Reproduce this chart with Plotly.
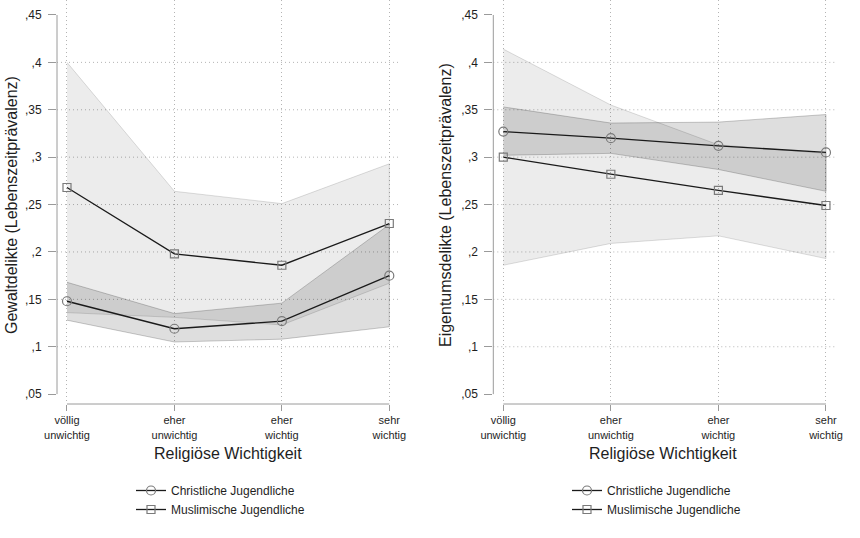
import plotly.graph_objects as go

# ---------------- data ----------------
categories = ["völlig<br>unwichtig", "eher<br>unwichtig", "eher<br>wichtig", "sehr<br>wichtig"]
y_tickvals = [0.05, 0.10, 0.15, 0.20, 0.25, 0.30, 0.35, 0.40, 0.45]
y_ticktext = [",05", ",1", ",15", ",2", ",25", ",3", ",35", ",4", ",45"]
grid_vals = [0.10, 0.15, 0.20, 0.25, 0.30, 0.35, 0.40]

series_names = ["Christliche Jugendliche", "Muslimische Jugendliche"]

gewalt_christ = [0.148, 0.119, 0.127, 0.175]
gewalt_christ_lo = [0.128, 0.105, 0.108, 0.121]
gewalt_christ_hi = [0.168, 0.135, 0.146, 0.229]
gewalt_muslim = [0.268, 0.198, 0.186, 0.230]
gewalt_muslim_lo = [0.136, 0.131, 0.123, 0.167]
gewalt_muslim_hi = [0.400, 0.264, 0.251, 0.293]

eigentum_christ = [0.327, 0.320, 0.312, 0.305]
eigentum_christ_lo = [0.302, 0.304, 0.287, 0.264]
eigentum_christ_hi = [0.353, 0.336, 0.337, 0.345]
eigentum_muslim = [0.300, 0.282, 0.265, 0.249]
eigentum_muslim_lo = [0.186, 0.209, 0.217, 0.193]
eigentum_muslim_hi = [0.414, 0.355, 0.313, 0.304]

y_titles = ["Gewaltdelikte (Lebenszeitprävalenz)", "Eigentumsdelikte (Lebenszeitprävalenz)"]
x_title = "Religiöse Wichtigkeit"

# ---------------- style ----------------
W, H = 860, 538
OFF = 0  # body margin is removed by the post script below
FONT = "Liberation Sans, Arial, sans-serif"
AXIS_COL = "#9a9a9a"
GRID_COL = "#b4b4b4"
TXT_COL = "#1e1e1e"
LINE_COL = "#1a1a1a"
MARK_COL = "#7a7a7a"
DOT = "1px,3px"


def px(sx):
    return (sx - OFF) / W


def py(sy):
    return 1 - (sy - OFF) / H


fig = go.Figure()

panels = [
    dict(xa="x", ya="y", leg="legend",
         c=gewalt_christ, clo=gewalt_christ_lo, chi=gewalt_christ_hi,
         m=gewalt_muslim, mlo=gewalt_muslim_lo, mhi=gewalt_muslim_hi),
    dict(xa="x2", ya="y2", leg="legend2",
         c=eigentum_christ, clo=eigentum_christ_lo, chi=eigentum_christ_hi,
         m=eigentum_muslim, mlo=eigentum_muslim_lo, mhi=eigentum_muslim_hi),
]

for p in panels:
    xs_band = categories + categories[::-1]
    # Christian CI band
    fig.add_trace(go.Scatter(x=xs_band, y=p["chi"] + p["clo"][::-1], xaxis=p["xa"], yaxis=p["ya"],
                             mode="lines", fill="toself", fillcolor="rgba(0,0,0,0.13)",
                             line=dict(color="rgba(0,0,0,0.20)", width=1),
                             hoverinfo="skip", showlegend=False))
    # Muslim CI band
    fig.add_trace(go.Scatter(x=xs_band, y=p["mhi"] + p["mlo"][::-1], xaxis=p["xa"], yaxis=p["ya"],
                             mode="lines", fill="toself", fillcolor="rgba(0,0,0,0.075)",
                             line=dict(color="rgba(0,0,0,0.13)", width=1),
                             hoverinfo="skip", showlegend=False))
    # lines
    fig.add_trace(go.Scatter(x=categories, y=p["c"], xaxis=p["xa"], yaxis=p["ya"], legend=p["leg"],
                             name=series_names[0], mode="lines+markers",
                             line=dict(color=LINE_COL, width=1.3),
                             marker=dict(symbol="circle-open", size=9, color=MARK_COL,
                                         line=dict(width=1.2, color=MARK_COL))))
    fig.add_trace(go.Scatter(x=categories, y=p["m"], xaxis=p["xa"], yaxis=p["ya"], legend=p["leg"],
                             name=series_names[1], mode="lines+markers",
                             line=dict(color=LINE_COL, width=1.3),
                             marker=dict(symbol="square-open", size=8, color=MARK_COL,
                                         line=dict(width=1.2, color=MARK_COL))))

y_dom = [py(404), 1.0]
y_range = [0.0396, 0.4658]

xcommon = dict(type="category", showgrid=True, griddash=DOT, gridcolor=GRID_COL, gridwidth=1,
               showline=False, zeroline=False, ticks="outside", ticklen=6, tickcolor=AXIS_COL,
               tickfont=dict(family=FONT, size=11, color=TXT_COL), fixedrange=True,
               automargin=False)
ycommon = dict(range=y_range, domain=y_dom, tickmode="array", tickvals=y_tickvals, ticktext=y_ticktext,
               showgrid=False, showline=False, zeroline=False, ticks="outside", ticklen=8,
               tickcolor=AXIS_COL, tickfont=dict(family=FONT, size=12, color=TXT_COL),
               ticklabelstandoff=4, fixedrange=True, automargin=False)

legcommon = dict(xanchor="left", yanchor="top", font=dict(family=FONT, size=12, color=TXT_COL),
                 bgcolor="rgba(0,0,0,0)", tracegroupgap=0, itemwidth=30)

fig.update_layout(
    width=W, height=H,
    margin=dict(l=0, r=0, t=0, b=0, pad=0),
    paper_bgcolor="white", plot_bgcolor="white",
    font=dict(family=FONT, color=TXT_COL),
    xaxis=dict(xcommon, domain=[px(57), px(398)], range=[-0.093, 3.081], anchor="y"),
    yaxis=dict(ycommon, anchor="x"),
    xaxis2=dict(xcommon, domain=[px(493.3), px(835)], range=[-0.093, 3.084], anchor="y2"),
    yaxis2=dict(ycommon, anchor="x2"),
    legend=dict(legcommon, x=px(131), y=py(476)),
    legend2=dict(legcommon, x=px(567), y=py(476)),
    showlegend=True,
)

shapes = []
annotations = []
for i, (xa, ya) in enumerate([("x", "y"), ("x2", "y2")]):
    # dotted horizontal gridlines (Stata leaves out the outermost ticks)
    for v in grid_vals:
        shapes.append(dict(type="line", xref=f"{xa} domain", yref=ya, x0=0, x1=1, y0=v, y1=v,
                           line=dict(color=GRID_COL, width=1, dash=DOT), layer="below"))
    # y axis line from first to last tick
    shapes.append(dict(type="line", xref=f"{xa} domain", yref=ya, x0=0, x1=0,
                       y0=y_tickvals[0], y1=y_tickvals[-1], line=dict(color=AXIS_COL, width=1)))
    # x axis line from first to last category
    shapes.append(dict(type="line", xref=xa, yref=f"{ya} domain", x0=0, x1=len(categories) - 1,
                       y0=0, y1=0, line=dict(color=AXIS_COL, width=1)))

# axis titles
for cx in (228, 663):
    annotations.append(dict(text=x_title, xref="paper", yref="paper", x=px(cx), y=py(453),
                            xanchor="center", yanchor="middle", showarrow=False,
                            font=dict(family=FONT, size=16, color=TXT_COL)))
for cx, t in zip((11, 445), y_titles):
    annotations.append(dict(text=t, xref="paper", yref="paper", x=px(cx), y=py(205),
                            xanchor="center", yanchor="middle", textangle=-90, showarrow=False,
                            font=dict(family=FONT, size=16, color=TXT_COL)))

fig.update_layout(shapes=shapes, annotations=annotations)

fig.write_html("out.html",
               config={"displayModeBar": False, "staticPlot": True},
               post_script="document.body.style.margin='0';document.body.style.overflow='hidden';")
